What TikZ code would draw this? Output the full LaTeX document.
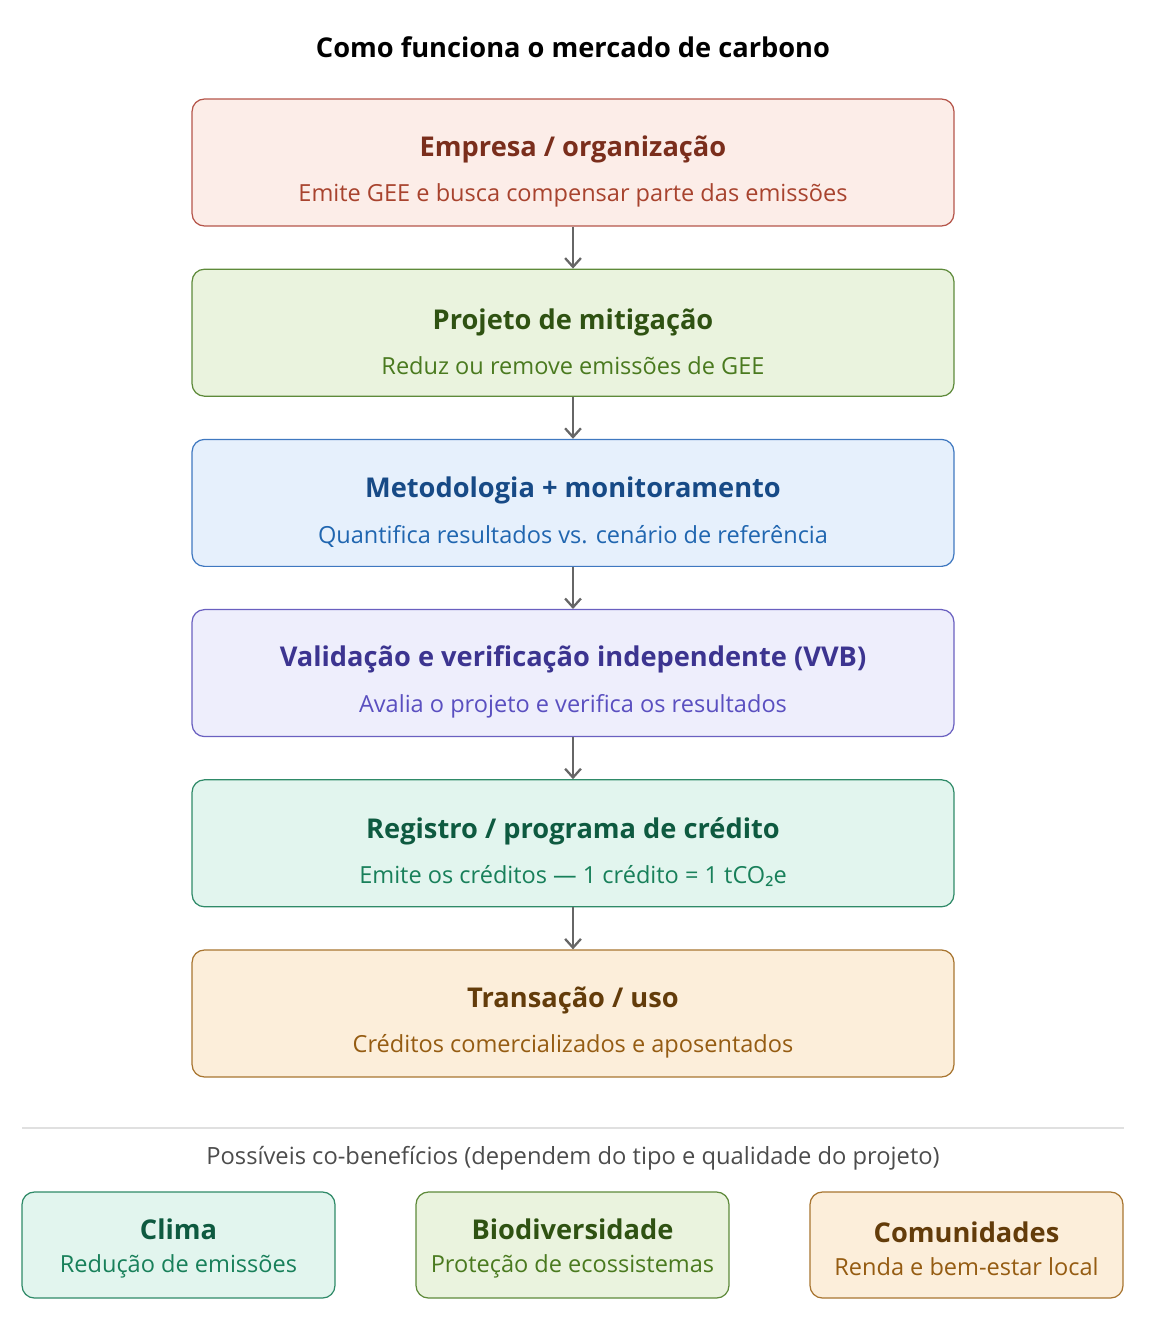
\documentclass[tikz,border=0pt]{standalone}
\usepackage{fontspec}
\setmainfont{Open Sans}
\newfontfamily\subfont{Noto Sans}
\usetikzlibrary{positioning,arrows.meta}

\definecolor{emprFill}{HTML}{FCEDE8}\definecolor{emprLine}{HTML}{B5554A}\definecolor{emprHead}{HTML}{7A2E1C}\definecolor{emprText}{HTML}{A8432E}
\definecolor{projFill}{HTML}{EAF3DE}\definecolor{projLine}{HTML}{5E8A3A}\definecolor{projHead}{HTML}{2F5212}\definecolor{projText}{HTML}{4A7A1F}
\definecolor{metoFill}{HTML}{E6F0FC}\definecolor{metoLine}{HTML}{3F78C0}\definecolor{metoHead}{HTML}{174A86}\definecolor{metoText}{HTML}{2066B0}
\definecolor{valiFill}{HTML}{EEEEFC}\definecolor{valiLine}{HTML}{6A60C0}\definecolor{valiHead}{HTML}{3C3490}\definecolor{valiText}{HTML}{5A4FC0}
\definecolor{regiFill}{HTML}{E2F5EE}\definecolor{regiLine}{HTML}{2F8A68}\definecolor{regiHead}{HTML}{0E5A40}\definecolor{regiText}{HTML}{18805A}
\definecolor{tranFill}{HTML}{FCEEDA}\definecolor{tranLine}{HTML}{A87530}\definecolor{tranHead}{HTML}{633C0A}\definecolor{tranText}{HTML}{955C12}

\newcommand{\stepbox}[3]{{\rule{0pt}{22pt}\fontsize{15.5}{19}\selectfont\bfseries\color{#1Head}#2}\\[11pt]{\fontsize{13.4}{15}\selectfont\color{#1Text}#3}}
\newcommand{\benebox}[3]{{\rule{0pt}{16pt}\fontsize{15.5}{19}\selectfont\bfseries\color{#1Head}#2}\\[7pt]{\fontsize{13.4}{15}\selectfont\color{#1Text}#3}}

\begin{document}
\begin{tikzpicture}[x=0.02cm, y=-0.02cm]
        \tikzstyle{stage} = [rectangle, draw, line width=0.7pt, rounded corners=7pt, minimum width=15.24cm, minimum height=2.54cm, align=center, inner sep=0pt]
        \tikzstyle{bene} = [rectangle, draw, line width=0.7pt, rounded corners=7pt, minimum width=6.26cm, minimum height=2.12cm, align=center, inner sep=0pt]
        \tikzstyle{line} = [draw, color=black!60, line width=1.3pt, -{Straight Barb[length=5pt,width=9pt]}]
    \useasboundingbox (0,0) rectangle (1149,1327);

    \node (title) at (573,47) {\fontsize{15.5}{18}\selectfont\bfseries Como funciona o mercado de carbono};

    \node [stage, fill=emprFill, draw=emprLine] (empresa) at (573,162.5) {\stepbox{empr}{Empresa / organização}{Emite GEE e busca compensar parte das emissões}};
    \node [stage, fill=projFill, draw=projLine, below=0.84cm of empresa] (projeto) {\stepbox{proj}{Projeto de mitigação}{Reduz ou remove emissões de GEE}};
    \node [stage, fill=metoFill, draw=metoLine, below=0.84cm of projeto] (metodologia) {\stepbox{meto}{Metodologia + monitoramento}{Quantifica resultados vs. cenário de referência}};
    \node [stage, fill=valiFill, draw=valiLine, below=0.84cm of metodologia] (validacao) {\stepbox{vali}{Validação e verificação independente (VVB)}{Avalia o projeto e verifica os resultados}};
    \node [stage, fill=regiFill, draw=regiLine, below=0.84cm of validacao] (registro) {\stepbox{regi}{Registro / programa de crédito}{Emite os créditos — 1 crédito = 1 tCO{\subfont ₂}e}};
    \node [stage, fill=tranFill, draw=tranLine, below=0.84cm of registro] (transacao) {\stepbox{tran}{Transação / uso}{Créditos comercializados e aposentados}};

    \path [line] (empresa) -- (projeto);
    \path [line] (projeto) -- (metodologia);
    \path [line] (metodologia) -- (validacao);
    \path [line] (validacao) -- (registro);
    \path [line] (registro) -- (transacao);

    \coordinate (sepL) at (22,1128);
    \coordinate (sepR) at (1124,1128);
    \draw [black!12, line width=0.6pt] (sepL) -- (sepR);
    \node [text=black!70] (cobeneficios) at (573,1158) {\fontsize{13.5}{16}\selectfont Possíveis co-benefícios (dependem do tipo e qualidade do projeto)};

    \node [bene, fill=regiFill, draw=regiLine] (clima) at (178.5,1245) {\benebox{regi}{Clima}{Redução de emissões}};
    \node [bene, fill=projFill, draw=projLine] (biodiversidade) at (572.5,1245) {\benebox{proj}{Biodiversidade}{Proteção de ecossistemas}};
    \node [bene, fill=tranFill, draw=tranLine] (comunidades) at (966.5,1245) {\benebox{tran}{Comunidades}{Renda e bem-estar local}};
\end{tikzpicture}
\end{document}
